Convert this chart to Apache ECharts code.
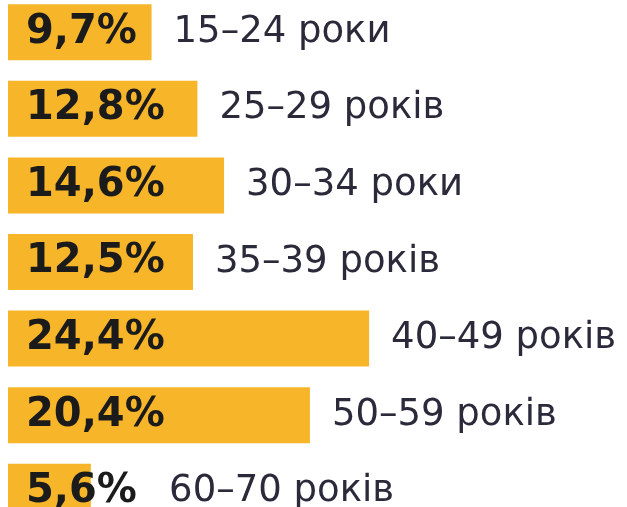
<!DOCTYPE html>
<html>
<head>
<meta charset="utf-8">
<script src="https://cdn.jsdelivr.net/npm/echarts@6/dist/echarts.min.js"></script>
<style>
  html, body { margin: 0; padding: 0; background: #fff; }
  #chart { width: 627px; height: 507px; }
</style>
</head>
<body>
<div id="chart"></div>
<script>
  // вікові групи
  const ageGroups = ['15–24 роки', '25–29 років', '30–34 роки', '35–39 років', '40–49 років', '50–59 років', '60–70 років'];
  // частка, %
  const shares = [9.7, 12.8, 14.6, 12.5, 24.4, 20.4, 5.6];

  const barColor = '#F7B52A';
  // підпис вікової групи не може стояти ближче, ніж після тексту відсотка
  const tagFloor = 9.4;

  const fmt = v => String(v).replace('.', ',') + '%';

  const chart = echarts.init(document.getElementById('chart'));
  chart.setOption({
    animation: false,
    grid: { left: 8, top: -6, width: 592, height: 536, outerBoundsMode: 'none' },
    xAxis: {
      type: 'value',
      min: 0,
      max: 40,
      show: false
    },
    yAxis: {
      type: 'category',
      data: ageGroups,
      inverse: true,
      show: false
    },
    series: [
      {
        type: 'bar',
        data: shares,
        barWidth: 56,
        itemStyle: { color: barColor },
        label: {
          show: true,
          position: 'insideLeft',
          distance: 18,
          formatter: p => fmt(p.value),
          fontFamily: 'DejaVu Sans',
          fontWeight: 'bold',
          fontSize: 40,
          color: '#1b1b1b'
        },
        z: 3
      },
      {
        // невидимі стовпці лише для підписів праворуч
        type: 'bar',
        data: shares.map(v => Math.max(v, tagFloor)),
        barWidth: 56,
        barGap: '-100%',
        itemStyle: { color: 'rgba(0,0,0,0)' },
        label: {
          show: true,
          position: 'right',
          distance: 22,
          formatter: p => ageGroups[p.dataIndex],
          fontFamily: 'DejaVu Sans',
          fontSize: 37,
          color: '#2b2a3a'
        },
        silent: true,
        z: 2
      }
    ]
  });
</script>
</body>
</html>
